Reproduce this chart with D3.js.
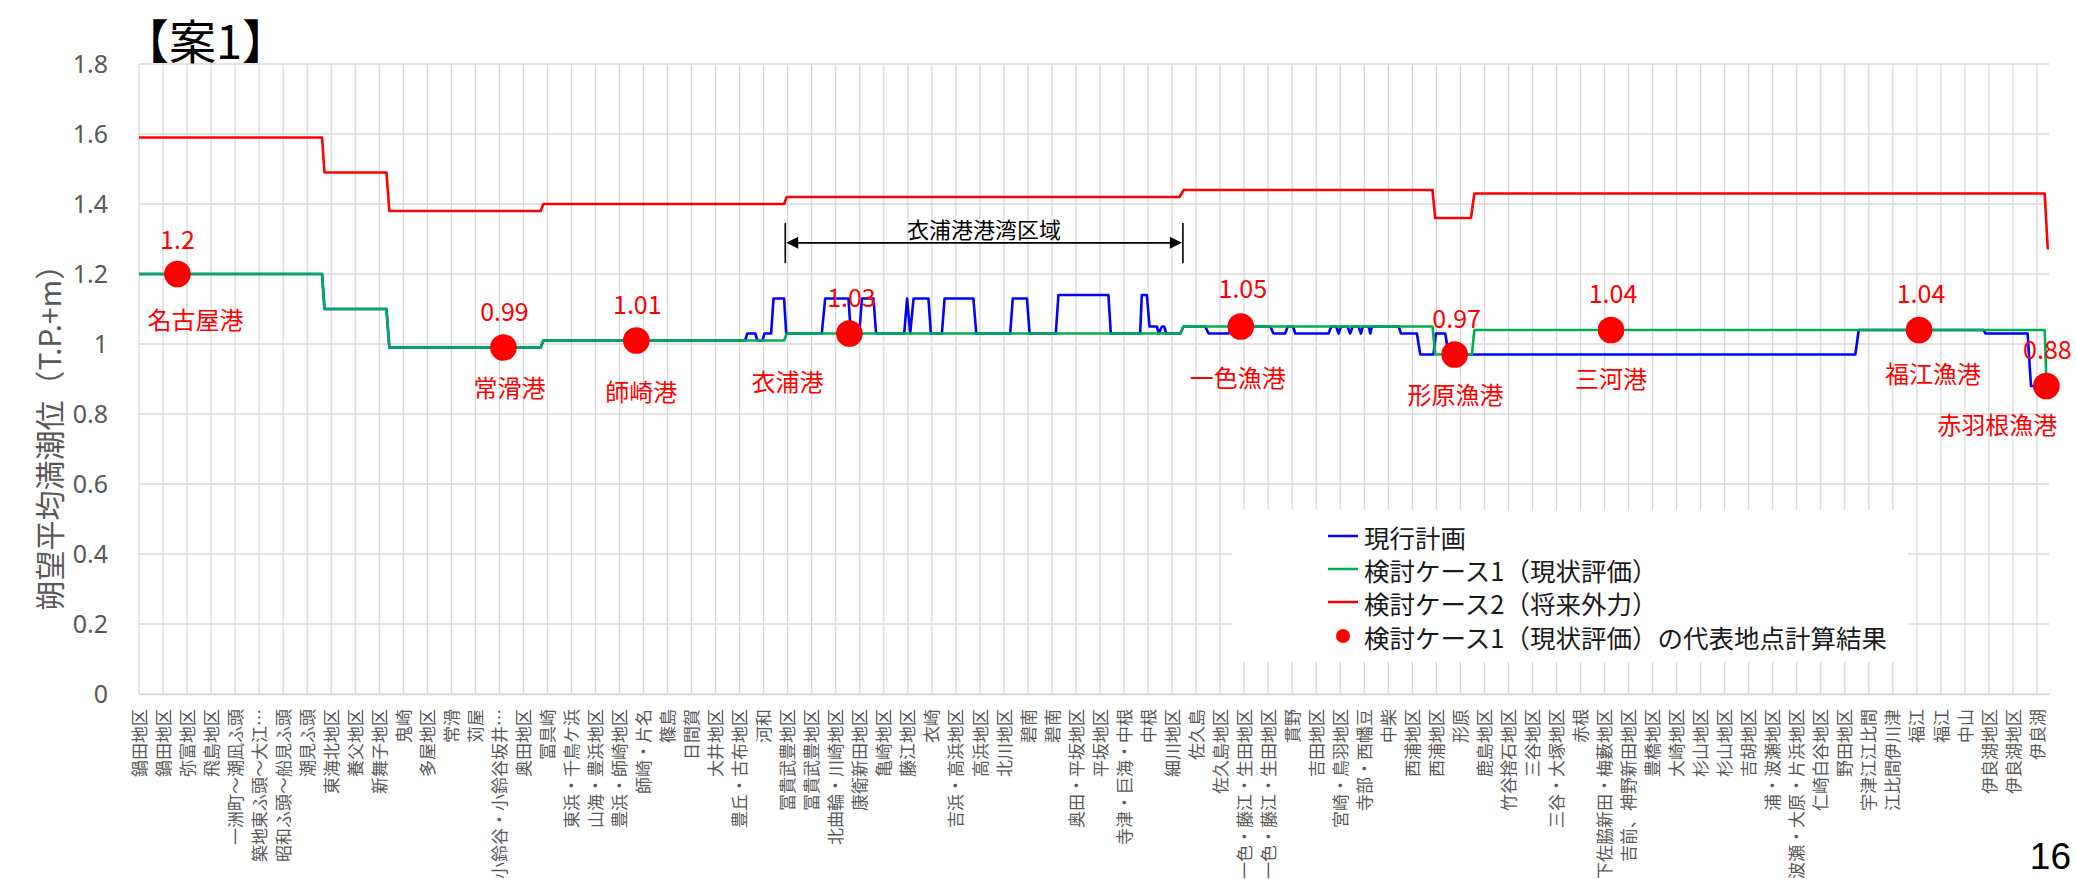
<!DOCTYPE html>
<html><head><meta charset="utf-8">
<script src="https://cdn.jsdelivr.net/npm/d3@7/dist/d3.min.js"></script>
<style>body{margin:0;background:#fff;overflow:hidden}</style>
</head><body><svg id="c" width="2076" height="879"></svg>
<script>
// ---------- data ----------
const categories = ["鍋田地区","鍋田地区","弥富地区","飛島地区","一洲町～潮凪ふ頭","築地東ふ頭～大江…","昭和ふ頭～船見ふ頭","潮見ふ頭","東海北地区","養父地区","新舞子地区","鬼崎","多屋地区","常滑","苅屋","小鈴谷・小鈴谷坂井…","奥田地区","冨具崎","東浜・千鳥ケ浜","山海・豊浜地区","豊浜・師崎地区","師崎・片名","篠島","日間賀","大井地区","豊丘・古布地区","河和","冨貴武豊地区","冨貴武豊地区","北曲輪・川崎地区","康衛新田地区","亀崎地区","藤江地区","衣崎","吉浜・高浜地区","高浜地区","北川地区","碧南","碧南","奥田・平坂地区","平坂地区","寺津・巨海・中根","中根","細川地区","佐久島","佐久島地区","一色・藤江・生田地区","一色・藤江・生田地区","貫野","吉田地区","宮崎・鳥羽地区","寺部・西幡豆","中柴","西浦地区","西浦地区","形原","鹿島地区","竹谷捨石地区","三谷地区","三谷・大塚地区","赤根","下佐脇新田・梅藪地区","吉前、神野新田地区","豊橋地区","大崎地区","杉山地区","杉山地区","吉胡地区","浦・波瀬地区","波瀬・大原・片浜地区","仁崎白谷地区","野田地区","宇津江江比間","江比間伊川津","福江","福江","中山","伊良湖地区","伊良湖地区","伊良湖"];

const seriesNames = ["現行計画","検討ケース1（現状評価）","検討ケース2（将来外力）"];
const pointSeriesName = "検討ケース1（現状評価）の代表地点計算結果";

// [category position, value]
const currentPlan = [[0,1.2],[7.62,1.2],[7.72,1.1],[10.3,1.1],[10.42,0.99],[16.72,0.99],[16.83,1.01],[25.23,1.01],[25.32,1.03],[25.65,1.03],[25.74,1.01],[25.95,1.01],[26.03,1.03],[26.31,1.03],[26.41,1.13],[26.85,1.13],[26.94,1.03],[28.42,1.03],[28.56,1.13],[29.53,1.13],[29.63,1.03],[29.98,1.03],[30.09,1.13],[30.57,1.13],[30.68,1.03],[31.85,1.03],[31.97,1.13],[32.1,1.03],[32.24,1.13],[32.86,1.13],[32.96,1.03],[33.42,1.03],[33.53,1.13],[34.73,1.13],[34.85,1.03],[36.26,1.03],[36.37,1.13],[36.96,1.13],[37.07,1.03],[38.16,1.03],[38.27,1.14],[40.35,1.14],[40.45,1.03],[41.67,1.03],[41.74,1.14],[41.95,1.14],[42.06,1.05],[42.37,1.05],[42.44,1.03],[42.58,1.05],[42.67,1.05],[42.76,1.03],[43.34,1.03],[43.48,1.05],[44.38,1.05],[44.52,1.03],[45.35,1.03],[45.49,1.05],[47.09,1.05],[47.22,1.03],[47.71,1.03],[47.81,1.05],[48.03,1.05],[48.13,1.03],[49.51,1.03],[49.63,1.05],[49.83,1.05],[49.93,1.03],[50.03,1.05],[50.3,1.05],[50.41,1.03],[50.52,1.05],[50.76,1.05],[50.86,1.03],[50.94,1.05],[51.18,1.05],[51.25,1.03],[51.32,1.05],[52.43,1.05],[52.53,1.03],[53.19,1.03],[53.33,0.97],[53.88,0.97],[53.98,1.03],[54.37,1.03],[54.51,0.97],[71.44,0.97],[71.58,1.04],[76.78,1.04],[76.85,1.03],[78.61,1.03],[78.75,0.88],[79.4,0.88]];
const case1Present = [[0,1.2],[7.62,1.2],[7.72,1.1],[10.3,1.1],[10.42,0.99],[16.72,0.99],[16.83,1.01],[26.85,1.01],[26.96,1.03],[43.34,1.03],[43.48,1.05],[53.84,1.05],[53.95,0.97],[55.48,0.97],[55.58,1.04],[79.32,1.04],[79.4,0.88]];
const case2Future = [[0,1.59],[7.62,1.59],[7.72,1.49],[10.3,1.49],[10.42,1.38],[16.72,1.38],[16.83,1.40],[26.85,1.40],[26.96,1.42],[43.31,1.42],[43.48,1.44],[53.84,1.44],[53.95,1.36],[55.44,1.36],[55.58,1.43],[79.32,1.43],[79.45,1.27]];

const pointNames = ["名古屋港","常滑港","師崎港","衣浦港","一色漁港","形原漁港","三河港","福江漁港","赤羽根漁港"];
const pointPositions = [1.6,15.17,20.7,29.57,45.86,54.76,61.27,74.09,79.39];
const pointValues = [1.2,0.99,1.01,1.03,1.05,0.97,1.04,1.04,0.88];

const yTicks = [0,0.2,0.4,0.6,0.8,1,1.2,1.4,1.6,1.8];
const title = "【案1】";
const yTitle = "朔望平均満潮位（T.P.+m）";
const regionLabel = "衣浦港港湾区域";
const regionRange = [26.9, 43.45];
const pageNo = "16";

// ---------- layout / style (not data) ----------
const seriesColors = ["#0000ff","#00b050","#ff0000"];
const labelOffsets = [ // [value dx, value dy, name dx, name dy] in px
  [0,-36,18,44],[1,-38,6,39],[1,-38,5,50],[2,-38,-62,47],[2,-40,-3,50],[2,-38,1,39],[2,-38,0,47],[2,-38,14,42],[1,-38,-49,37]];
const L=139, R=2049, T=64, B=694;
const JP = "'Noto Sans CJK JP','Noto Sans',sans-serif";

const svg = d3.select("#c");
const x = d3.scaleLinear().domain([0,79.5]).range([L,R]);
const y = d3.scaleLinear().domain([0,1.8]).range([B,T]);

// gridlines
const g = svg.append("g");
g.selectAll("line.h").data(yTicks).join("line")
  .attr("x1",L).attr("x2",R).attr("y1",d=>y(d)).attr("y2",d=>y(d))
  .attr("stroke","#d9d9d9").attr("stroke-width",1.3);
g.selectAll("line.v").data(d3.range(categories.length)).join("line")
  .attr("x1",d=>x(d)).attr("x2",d=>x(d)).attr("y1",T).attr("y2",B)
  .attr("stroke","#d9d9d9").attr("stroke-width",1.3);

// y axis
const ya = svg.append("g").attr("transform",`translate(${L},0)`)
  .call(d3.axisLeft(y).tickValues(yTicks).tickSize(0).tickPadding(31).tickFormat(d=>String(d)));
ya.select(".domain").remove();
ya.selectAll("text").attr("font-family","'Noto Sans',sans-serif").attr("font-size",25).attr("fill","#595959");

// x axis
const xa = svg.append("g").attr("transform",`translate(0,${B})`)
  .call(d3.axisBottom(x).tickValues(d3.range(categories.length)).tickSize(0).tickFormat(i=>categories[i]));
xa.select(".domain").attr("stroke","#d9d9d9").attr("stroke-width",1.3);
xa.selectAll("text").attr("font-family",JP).attr("font-size",17).attr("fill","#595959")
  .attr("transform","rotate(-90)").attr("text-anchor","end").attr("x",-15).attr("y",0).attr("dy","0.36em");

// legend
const lg = svg.append("g");
lg.append("rect").attr("x",1232).attr("y",510).attr("width",676).attr("height",152).attr("fill","#fff");
const ly = [536,569,602,636];
seriesNames.forEach((n,i)=>{
  lg.append("line").attr("x1",1328).attr("x2",1358).attr("y1",ly[i]).attr("y2",ly[i]).attr("stroke",seriesColors[i]).attr("stroke-width",2.5);
  lg.append("text").attr("x",1364).attr("y",ly[i]).attr("dominant-baseline","central").attr("font-family",JP).attr("font-size",25.5).attr("fill","#1a1a1a").text(n);
});
lg.append("circle").attr("cx",1343).attr("cy",ly[3]).attr("r",7).attr("fill","#ff0000");
lg.append("text").attr("x",1364).attr("y",ly[3]).attr("dominant-baseline","central").attr("font-family",JP).attr("font-size",25.5).attr("fill","#1a1a1a").text(pointSeriesName);

// lines
const line = d3.line().x(d=>x(d[0])).y(d=>y(d[1]));
[currentPlan, case1Present, case2Future].forEach((s,i)=>{
  svg.append("path").datum(s).attr("d",line).attr("fill","none")
    .attr("stroke",seriesColors[i]).attr("stroke-width",2.6).attr("stroke-linejoin","round");
});

// annotation
const ax1 = x(regionRange[0]), ax2 = x(regionRange[1]), ay = y(1.289);
const an = svg.append("g");
[ax1,ax2].forEach(xx=>an.append("line").attr("x1",xx).attr("x2",xx).attr("y1",y(1.346)).attr("y2",y(1.231)).attr("stroke","#000").attr("stroke-width",1.6));
an.append("line").attr("x1",ax1+10).attr("x2",ax2-10).attr("y1",ay).attr("y2",ay).attr("stroke","#000").attr("stroke-width",1.6);
an.append("path").attr("d",`M${ax1+1},${ay} l12,-6 v12 z`).attr("fill","#000");
an.append("path").attr("d",`M${ax2-1},${ay} l-12,-6 v12 z`).attr("fill","#000");
an.append("text").attr("x",(ax1+ax2)/2).attr("y",ay-5).attr("text-anchor","middle").attr("font-family",JP).attr("font-size",22).attr("fill","#000").text(regionLabel);

// points + labels
const pts = pointNames.map((n,i)=>({n, u:pointPositions[i], v:pointValues[i], o:labelOffsets[i]}));
svg.selectAll("circle.p").data(pts).join("circle").attr("cx",d=>x(d.u)).attr("cy",d=>y(d.v)).attr("r",13.3).attr("fill","#ff0000");
svg.selectAll("text.pv").data(pts).join("text").attr("x",d=>x(d.u)+d.o[0]).attr("y",d=>y(d.v)+d.o[1])
  .attr("text-anchor","middle").attr("dominant-baseline","central").attr("font-family",JP).attr("font-size",25).attr("fill","#ff0000").text(d=>String(d.v));
svg.selectAll("text.pn").data(pts).join("text").attr("x",d=>x(d.u)+d.o[2]).attr("y",d=>y(d.v)+d.o[3])
  .attr("text-anchor","middle").attr("dominant-baseline","central").attr("font-family",JP).attr("font-size",24).attr("fill","#ff0000").text(d=>d.n);

// titles
svg.append("text").attr("x",122).attr("y",59).attr("font-family",JP).attr("font-size",47).attr("fill","#000").text(title);
svg.append("text").attr("transform",`translate(48,430) rotate(-90)`).attr("text-anchor","middle").attr("dominant-baseline","central")
  .attr("font-family",JP).attr("font-size",30).attr("fill","#595959").text(yTitle);
svg.append("text").attr("x",2071).attr("y",869).attr("text-anchor","end").attr("font-family","'Liberation Sans',sans-serif").attr("font-size",37).attr("fill","#000").text(pageNo);
</script></body></html>
